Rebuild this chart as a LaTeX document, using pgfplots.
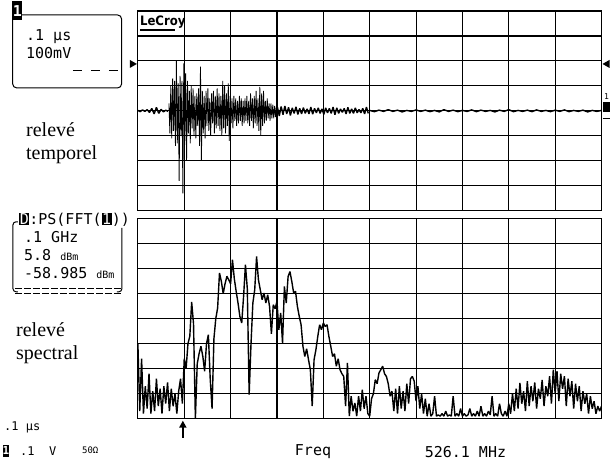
\documentclass[border=0pt]{standalone}
\usepackage{pgfplots}
\pgfplotsset{compat=1.18}
\usetikzlibrary{arrows.meta}
\usepackage{fontspec}
\setmainfont{Liberation Serif}
\newfontfamily\lcd{DejaVu Sans Mono}
\newfontfamily\logo{DejaVu Sans Condensed}
\setlength{\fboxsep}{0.6pt}
\newcommand{\inv}[1]{\colorbox{black}{\color{white}#1}}

\pgfplotsset{
  scope/.style={
    scale only axis, width=464pt, height=200pt,
    anchor=south west,
    xmin=0, xmax=10, xtick={0,...,10},
    xticklabels={}, yticklabels={},
    major tick length=0pt,
    grid=major, major grid style={black, line width=1.1pt},
    axis line style={line width=1.2pt},
  },
  trace/.style={black, line width=1.4pt, line join=bevel},
}

\begin{document}
\begin{tikzpicture}
\path (0pt,0pt) rectangle (610pt,464pt);

% time trace, 0.1 us/div
\begin{axis}[scope, at={(138pt,253pt)}, ymin=-4, ymax=4, ytick={-4,...,4}]
\addplot[trace] table[row sep=\\, header=false, x expr={0.05*\coordindex}, y index=0]
{0.02\\-0.03\\0.04\\-0.02\\0.05\\-0.06\\0.10\\-0.12\\0.14\\-0.10\\0.06\\-0.04\\0.03\\-0.02\\};
\addplot[trace, line width=0.8pt] table[row sep=\\, header=false, x expr={0.67+0.02*\coordindex}, y index=0]
{0.3\\-0.9\\1.0\\-1.1\\1.3\\-0.8\\1.2\\-1.4\\2.0\\-1.3\\
1.1\\-2.8\\1.4\\-1.0\\1.2\\-3.3\\1.9\\-1.2\\1.5\\-2.0\\
1.2\\-0.9\\0.8\\-1.3\\1.0\\-0.7\\0.9\\-1.0\\0.6\\-1.1\\
0.7\\-0.6\\0.9\\-1.4\\1.77\\-2.0\\0.8\\-0.9\\0.6\\-1.1\\
0.8\\-0.6\\0.9\\-0.8\\0.5\\-1.0\\0.7\\-0.5\\0.8\\-0.9\\
0.6\\-0.7\\0.9\\-0.6\\0.7\\-0.8\\0.6\\-1.0\\1.2\\-0.7\\
1.0\\-0.9\\0.7\\-0.6\\1.1\\-1.2\\0.6\\-0.5\\0.5\\-0.7\\
0.6\\-0.4\\0.5\\-0.6\\0.4\\-0.5\\0.6\\-0.4\\0.5\\-0.6\\
0.4\\-0.5\\0.5\\-0.4\\0.6\\-0.5\\0.4\\-0.6\\0.7\\-0.4\\
0.5\\-0.7\\0.6\\-0.5\\0.8\\-0.6\\0.5\\-0.8\\0.96\\-0.96\\
0.7\\-0.6\\0.8\\-0.5\\0.4\\-0.4\\0.5\\-0.3\\0.3\\-0.4\\
0.3\\-0.3\\0.25\\-0.3\\0.2\\-0.25\\0.2\\};
\addplot[trace] table[row sep=\\, header=false, x expr={3.01+0.04*\coordindex}, y index=0]
{0.15\\-0.2\\0.18\\-0.15\\0.2\\-0.12\\0.14\\-0.18\\0.12\\-0.1\\
0.16\\-0.14\\0.1\\-0.12\\0.13\\-0.1\\0.08\\-0.12\\0.15\\-0.13\\
0.1\\-0.08\\0.12\\-0.1\\0.08\\-0.14\\0.12\\-0.08\\0.1\\-0.1\\
0.15\\-0.15\\0.12\\-0.1\\0.08\\-0.06\\0.1\\-0.12\\0.14\\-0.1\\
0.08\\-0.1\\0.12\\-0.08\\0.06\\-0.08\\0.1\\-0.12\\0.15\\-0.1\\};
\addplot[trace] table[row sep=\\, header=false, x expr={5.0+0.1*\coordindex}, y index=0]
{0.02\\-0.03\\0.03\\-0.02\\0.05\\-0.02\\0.03\\-0.04\\0.02\\-0.02\\
0.04\\-0.02\\0.03\\-0.03\\0.02\\-0.04\\0.05\\-0.02\\0.03\\-0.03\\
0.02\\-0.02\\0.04\\-0.03\\0.03\\-0.02\\0.02\\-0.04\\0.03\\-0.02\\
0.05\\-0.03\\0.02\\-0.02\\0.03\\-0.03\\0.04\\-0.02\\0.02\\-0.03\\
0.03\\-0.02\\0.04\\-0.03\\0.02\\-0.02\\0.03\\-0.04\\0.02\\-0.02\\0.02\\};
\end{axis}

% power spectrum, 0.1 GHz/div
\begin{axis}[scope, at={(138pt,45pt)}, ymin=0, ymax=8, ytick={0,...,8}]
\addplot[trace] table[row sep=\\, header=false, x expr={0.04*\coordindex}, y index=0]
{3.0\\0.3\\2.4\\0.2\\1.3\\0.4\\1.8\\0.2\\1.1\\0.3\\
1.6\\0.5\\1.2\\0.2\\1.3\\0.6\\1.45\\0.3\\1.2\\0.5\\
1.0\\0.2\\1.1\\1.6\\0.6\\2.4\\2.0\\3.0\\3.3\\4.67\\
3.8\\0.0\\2.2\\2.6\\2.9\\2.5\\1.9\\3.0\\3.36\\1.6\\
0.4\\3.2\\4.0\\4.43\\5.83\\5.5\\5.0\\5.4\\5.7\\5.56\\
5.4\\6.36\\5.6\\5.09\\4.63\\4.09\\3.83\\4.9\\6.16\\5.2\\
0.96\\3.0\\4.63\\5.16\\6.49\\5.56\\5.16\\4.76\\5.03\\4.63\\
4.96\\4.49\\3.4\\4.56\\4.4\\4.7\\3.56\\4.23\\3.03\\5.29\\
4.63\\5.69\\5.89\\5.49\\5.03\\5.1\\4.5\\4.1\\3.76\\2.9\\
2.49\\2.8\\2.36\\1.96\\0.5\\2.36\\2.76\\3.29\\3.76\\3.56\\
3.83\\3.69\\3.76\\3.29\\2.9\\2.49\\2.6\\2.1\\2.4\\1.96\\
1.8\\1.69\\0.5\\2.23\\0.1\\0.9\\0.3\\0.63\\0.1\\0.9\\
0.3\\1.16\\0.4\\0.9\\0.2\\0.1\\0.8\\1.0\\1.56\\1.4\\
1.83\\1.96\\2.1\\1.8\\1.69\\1.4\\0.9\\1.1\\0.3\\1.2\\
0.2\\1.3\\0.4\\1.1\\0.3\\1.4\\0.6\\1.6\\1.69\\1.5\\
0.7\\1.3\\0.4\\1.0\\0.2\\0.8\\0.1\\0.6\\0.1\\0.2\\
0.9\\0.1\\0.15\\0.1\\0.2\\0.1\\0.3\\0.1\\0.15\\0.1\\
0.9\\0.1\\0.2\\0.1\\0.4\\0.1\\0.2\\0.1\\0.15\\0.4\\
0.1\\0.2\\0.1\\0.3\\0.1\\0.5\\0.1\\0.2\\0.1\\0.3\\
0.15\\0.9\\0.1\\0.2\\0.1\\0.6\\0.2\\0.1\\0.3\\0.1\\
0.6\\0.2\\1.0\\0.3\\1.2\\0.4\\1.43\\0.6\\1.1\\0.3\\
1.5\\0.5\\1.3\\0.7\\1.45\\0.4\\1.2\\0.8\\1.55\\0.5\\
1.3\\0.9\\1.7\\0.6\\1.96\\1.0\\1.9\\0.7\\1.8\\1.2\\
1.7\\0.5\\1.6\\0.9\\1.5\\0.4\\1.4\\0.7\\1.3\\0.3\\
1.1\\0.6\\1.0\\0.2\\0.9\\0.4\\0.7\\0.2\\0.5\\0.3\\
0.5\\};
\end{axis}

\begin{scope}[x=1pt, y=1pt]
  % LeCroy logo
  \node[anchor=west, inner sep=0pt, font=\logo\bfseries\fontsize{13}{13}\selectfont] at (140,442) {LeCroy};
  \draw[line width=1.4pt] (140,434) -- (175,434);
  % trigger / level markers
  \fill (130,404) -- (137,400) -- (130,396) -- cycle;
  \fill (610,404) -- (603,400) -- (610,396) -- cycle;
  \node[inner sep=0pt, font=\lcd\fontsize{8}{8}\selectfont] at (607,367) {1};
  \fill (603,352) rectangle (610,362);
  \draw[line width=1pt] (603,345) -- (610,345);

  % channel 1 box
  \draw[line width=1pt, rounded corners=4pt] (12.7,449) rectangle (121.7,376);
  \fill (12.5,444) rectangle (22,462.5);
  \node[text=white, inner sep=0pt, font=\lcd\bfseries\fontsize{15}{15}\selectfont] at (17.3,453) {1};
  \node[anchor=west, inner sep=0pt, font=\lcd\fontsize{15}{15}\selectfont] at (26,427) {.1 μs};
  \node[anchor=west, inner sep=0pt, font=\lcd\fontsize{15}{15}\selectfont] at (26,411) {100mV};
  \foreach \a in {73,91,109} \draw[line width=1.3pt] (\a,393.3) -- (\a+9,393.3);

  % FFT box
  \node[anchor=west, inner sep=0pt, font=\lcd\fontsize{15}{15}\selectfont] at (19,244) {\inv{D}:PS(FFT(\inv{1}))};
  \draw[line width=1pt, rounded corners=3pt] (18,242) -- (13,242) -- (13,172) -- (18,172);
  \draw[line width=1pt, rounded corners=3pt] (122,236) -- (122,172) -- (117,172);
  \draw[line width=1pt, dash pattern=on 7pt off 2pt] (15,175) -- (121,175);
  \draw[line width=1pt, dash pattern=on 7pt off 2pt] (15,170) -- (121,170);
  \node[anchor=west, inner sep=0pt, font=\lcd\fontsize{15}{15}\selectfont] at (24,227) {.1 GHz};
  \node[anchor=west, inner sep=0pt, font=\lcd\fontsize{15}{15}\selectfont] at (24,209) {5.8 {\fontsize{10}{10}\selectfont dBm}};
  \node[anchor=west, inner sep=0pt, font=\lcd\fontsize{15}{15}\selectfont] at (24,191) {-58.985 {\fontsize{10}{10}\selectfont dBm}};

  % captions
  \node[anchor=base west, inner sep=0pt, font=\fontsize{20}{20}\selectfont] at (26,327) {relevé};
  \node[anchor=base west, inner sep=0pt, font=\fontsize{20}{20}\selectfont] at (26,304) {temporel};
  \node[anchor=base west, inner sep=0pt, font=\fontsize{20}{20}\selectfont] at (16,127) {relevé};
  \node[anchor=base west, inner sep=0pt, font=\fontsize{20}{20}\selectfont] at (16,104) {spectral};

  % bottom status line
  \draw[-{Triangle[width=7pt,length=7pt]}, line width=2pt] (183,26) -- (183,43);
  \node[anchor=west, inner sep=0pt, font=\lcd\fontsize{12}{12}\selectfont] at (4,36) {.1 μs};
  \fill (3,7) rectangle (9,19);
  \node[text=white, inner sep=0pt, font=\lcd\bfseries\fontsize{11}{11}\selectfont] at (6,13) {1};
  \node[anchor=west, inner sep=0pt, font=\lcd\fontsize{12}{12}\selectfont] at (20,13) {.1};
  \node[anchor=west, inner sep=0pt, font=\lcd\fontsize{12}{12}\selectfont] at (49,13) {V};
  \node[anchor=west, inner sep=0pt, font=\lcd\fontsize{9}{9}\selectfont] at (82,13) {50Ω};
  \node[anchor=west, inner sep=0pt, font=\lcd\fontsize{15}{15}\selectfont] at (295,12) {Freq};
  \node[anchor=west, inner sep=0pt, font=\lcd\fontsize{15}{15}\selectfont] at (425,12) {526.1 MHz};
\end{scope}
\end{tikzpicture}
\end{document}
